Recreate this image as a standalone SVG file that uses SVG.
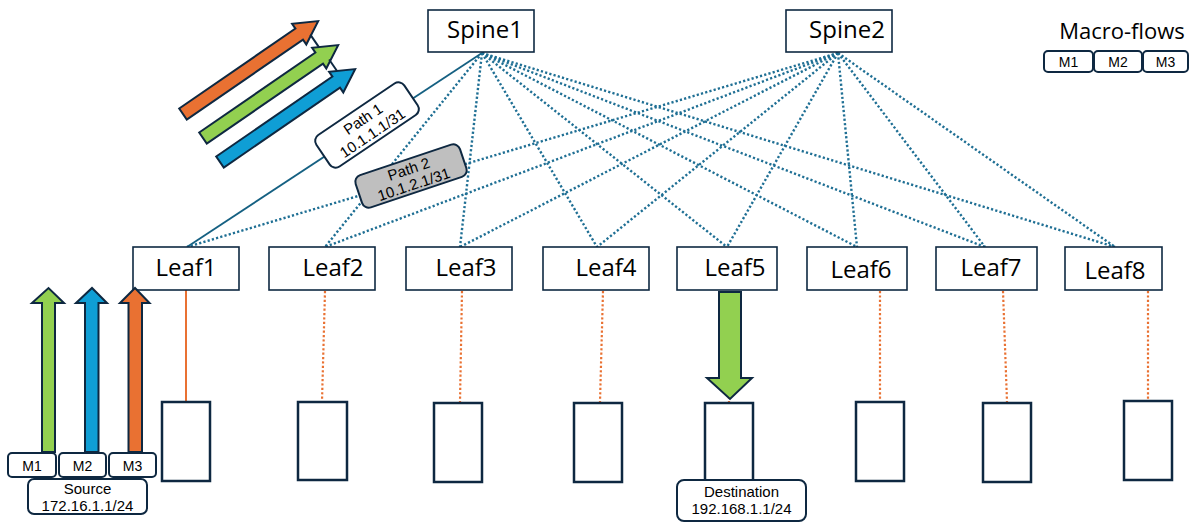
<svg xmlns="http://www.w3.org/2000/svg" width="1194" height="522" viewBox="0 0 1194 522">
<style>
.box{fill:#fff;stroke:#0E2841;stroke-width:1.6}
.srv{fill:#fff;stroke:#0E2841;stroke-width:2.5}
.big{font-family:"Open Sans","Liberation Sans",sans-serif;font-size:24px;fill:#000}
.sm{font-family:"Liberation Sans",Arial,sans-serif;fill:#000;text-anchor:middle}
.lbl{fill:#fff;stroke:#0E2841;stroke-width:2}
.dot{stroke:#1F6F94;stroke-width:2.4;stroke-dasharray:2.2 2.2;fill:none}
.odot{stroke:#E97132;stroke-width:2.2;stroke-dasharray:2.2 2.2;fill:none}
.arr{stroke:#0E2841;stroke-width:2;stroke-linejoin:miter}
</style>
<rect width="1194" height="522" fill="#fff"/>

<g id="connectors">
  <line x1="482" y1="53" x2="187" y2="247" stroke="#156082" stroke-width="1.8"/>
  <line class="dot" x1="482" y1="53" x2="325" y2="247"/>
  <line class="dot" x1="482" y1="53" x2="460" y2="247"/>
  <line class="dot" x1="482" y1="53" x2="597" y2="247"/>
  <line class="dot" x1="482" y1="53" x2="727" y2="247"/>
  <line class="dot" x1="482" y1="53" x2="857" y2="247"/>
  <line class="dot" x1="482" y1="53" x2="985" y2="247"/>
  <line class="dot" x1="482" y1="53" x2="1115" y2="247"/>
  <line class="dot" x1="838" y1="53" x2="187" y2="247"/>
  <line class="dot" x1="838" y1="53" x2="325" y2="247"/>
  <line class="dot" x1="838" y1="53" x2="460" y2="247"/>
  <line class="dot" x1="838" y1="53" x2="597" y2="247"/>
  <line class="dot" x1="838" y1="53" x2="727" y2="247"/>
  <line class="dot" x1="838" y1="53" x2="857" y2="247"/>
  <line class="dot" x1="838" y1="53" x2="985" y2="247"/>
  <line class="dot" x1="838" y1="53" x2="1115" y2="247"/>
  <line x1="186" y1="290" x2="186" y2="402" stroke="#E97132" stroke-width="2"/>
  <line class="odot" x1="325" y1="291" x2="322" y2="401"/>
  <line class="odot" x1="462" y1="291" x2="460" y2="402"/>
  <line class="odot" x1="603" y1="291" x2="600" y2="402"/>
  <line class="odot" x1="729" y1="291" x2="729" y2="402"/>
  <line class="odot" x1="880" y1="291" x2="880" y2="401"/>
  <line class="odot" x1="1003" y1="291" x2="1007" y2="402"/>
  <line class="odot" x1="1148" y1="291" x2="1148" y2="400"/>
</g>

<g id="path1-label" transform="translate(367,125) rotate(-34)">
  <rect class="lbl" x="-53" y="-19" width="106" height="38" rx="7"/>
  <text class="sm" font-size="15" x="0" y="-2">Path 1</text>
  <text class="sm" font-size="15" x="0" y="15">10.1.1.1/31</text>
</g>
<g id="path2-label" transform="translate(411,176) rotate(-18.5)">
  <rect x="-55" y="-17" width="110" height="34" rx="7" fill="#BFBFBF" stroke="#0E2841" stroke-width="2"/>
  <text class="sm" font-size="15" x="0" y="-2">Path 2</text>
  <text class="sm" font-size="15" x="0" y="14">10.1.2.1/31</text>
</g>

<g id="spine1"><rect class="box" x="428" y="10" width="106" height="42"/><text class="big" x="485" y="38" text-anchor="middle">Spine1</text></g>
<g id="spine2"><rect class="box" x="786" y="10" width="106" height="42"/><text class="big" x="847" y="38" text-anchor="middle">Spine2</text></g>

<g id="leaf1"><rect class="box" x="133" y="247" width="106" height="43"/><text class="big" x="186" y="276" text-anchor="middle">Leaf1</text></g>
<g id="leaf2"><rect class="box" x="269" y="247" width="106" height="43"/><text class="big" x="333" y="276" text-anchor="middle">Leaf2</text></g>
<g id="leaf3"><rect class="box" x="406" y="247" width="106" height="43"/><text class="big" x="466" y="276" text-anchor="middle">Leaf3</text></g>
<g id="leaf4"><rect class="box" x="543" y="247" width="106" height="43"/><text class="big" x="606" y="276" text-anchor="middle">Leaf4</text></g>
<g id="leaf5"><rect class="box" x="677" y="247" width="100" height="43"/><text class="big" x="735" y="276" text-anchor="middle">Leaf5</text></g>
<g id="leaf6"><rect class="box" x="807" y="247" width="100" height="43"/><text class="big" x="861" y="278" text-anchor="middle">Leaf6</text></g>
<g id="leaf7"><rect class="box" x="936" y="247" width="101" height="43"/><text class="big" x="991" y="276" text-anchor="middle">Leaf7</text></g>
<g id="leaf8"><rect class="box" x="1065" y="247" width="97" height="43"/><text class="big" x="1115" y="279" text-anchor="middle">Leaf8</text></g>

<g id="server1"><rect class="srv" x="162" y="402" width="48" height="79"/></g>
<g id="server2"><rect class="srv" x="298" y="402" width="49" height="78"/></g>
<g id="server3"><rect class="srv" x="434" y="403" width="48" height="79"/></g>
<g id="server4"><rect class="srv" x="574" y="403" width="48" height="79"/></g>
<g id="server5"><rect class="srv" x="705" y="403" width="48" height="78"/></g>
<g id="server6"><rect class="srv" x="856" y="402" width="48" height="79"/></g>
<g id="server7"><rect class="srv" x="983" y="403" width="48" height="79"/></g>
<g id="server8"><rect class="srv" x="1124" y="401" width="48" height="79"/></g>

<g id="flow-arrows">
  <g transform="translate(183,114) rotate(-34.5)">
    <polygon class="arr" fill="#E97132" points="0,-6.7 141,-6.7 141,-12.5 164,0 141,12.5 141,6.7 0,6.7"/>
  </g>
  <g transform="translate(203,138) rotate(-34.5)">
    <path d="M147,-24.4 L147,-9" stroke="#0E2841" stroke-width="2"/>
    <polygon class="arr" fill="#92D050" points="0,-6.7 141,-6.7 141,-12.5 164,0 141,12.5 141,6.7 0,6.7"/>
  </g>
  <g transform="translate(220,162) rotate(-34.5)">
    <path d="M148,-22.7 L148,-9" stroke="#0E2841" stroke-width="2"/>
    <polygon class="arr" fill="#0F9ED5" points="0,-6.7 141,-6.7 141,-12.5 164,0 141,12.5 141,6.7 0,6.7"/>
  </g>
</g>

<g id="source-arrows">
  <polygon class="arr" fill="#92D050" points="42,452 42,303 32,303 48.5,288 64,303 55,303 55,452"/>
  <polygon class="arr" fill="#0F9ED5" points="85,452 85,303 76,303 92,288 107,303 98.5,303 98.5,452"/>
  <polygon class="arr" fill="#E97132" points="128.5,452 128.5,303 120,303 135,288 149.5,303 142,303 142,452"/>
</g>

<g id="dest-arrow">
  <polygon class="arr" fill="#92D050" points="719,292 741,292 741,378 752,378 730,399 707,378 719,378"/>
</g>

<g id="source">
  <rect class="lbl" x="8" y="453" width="48" height="24" rx="4"/>
  <text class="sm" font-size="14" x="32" y="471">M1</text>
  <rect class="lbl" x="59" y="453" width="47" height="24" rx="4"/>
  <text class="sm" font-size="14" x="82.5" y="471">M2</text>
  <rect class="lbl" x="109" y="453" width="47" height="24" rx="4"/>
  <text class="sm" font-size="14" x="132.5" y="471">M3</text>
  <rect class="lbl" x="28" y="479" width="119" height="35" rx="6"/>
  <text class="sm" font-size="15" x="87.5" y="494">Source</text>
  <text class="sm" font-size="15" x="87.5" y="511">172.16.1.1/24</text>
</g>

<g id="destination">
  <rect class="lbl" x="677" y="480" width="129" height="41" rx="7"/>
  <text class="sm" font-size="15" x="741.5" y="497">Destination</text>
  <text class="sm" font-size="15" x="741.5" y="514">192.168.1.1/24</text>
</g>

<g id="legend">
  <text class="big" x="1122" y="39" text-anchor="middle" style="font-size:22px">Macro-flows</text>
  <rect class="lbl" x="1044" y="51" width="49" height="21" rx="4"/>
  <text class="sm" font-size="14" x="1068.5" y="66.5">M1</text>
  <rect class="lbl" x="1094" y="51" width="48" height="21" rx="4"/>
  <text class="sm" font-size="14" x="1118" y="66.5">M2</text>
  <rect class="lbl" x="1143" y="51" width="45" height="21" rx="4"/>
  <text class="sm" font-size="14" x="1165.5" y="66.5">M3</text>
</g>
</svg>
